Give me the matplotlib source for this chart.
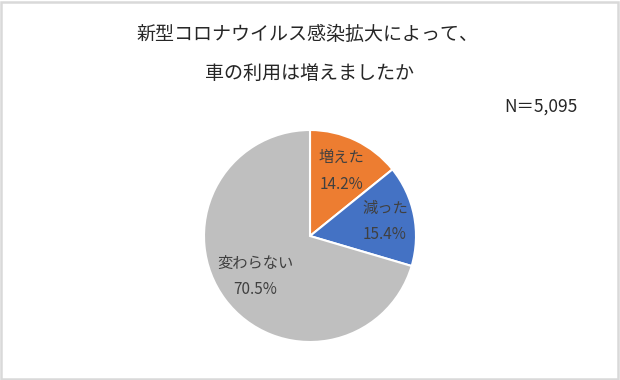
import matplotlib
matplotlib.use("Agg")
import matplotlib.pyplot as plt
from matplotlib.patches import Rectangle
import numpy as np

plt.rcParams['font.family'] = ['Noto Sans CJK JP', 'DejaVu Sans']

# data
categories = ['増えた', '減った', '変わらない']
shares = [14.2, 15.4, 70.5]
colors = ['#ED7D31', '#4472C4', '#BFBFBF']
title_lines = ['新型コロナウイルス感染拡大によって、', '車の利用は増えましたか']
n_note = 'N＝5,095'

# label distance from centre (fraction of radius), one per wedge
label_dist = [0.68, 0.72, 0.64]

W, H = 620, 380
fig = plt.figure(figsize=(W / 100, H / 100), dpi=100)

# light frame round the chart
fig.patches.append(Rectangle((0.002, 0.003), 0.995, 0.993, transform=fig.transFigure,
                             fill=False, edgecolor='#D9D9D9', linewidth=1.8))

# pie centre (310, 236) px, radius 106 px
cx, cy, r = 310, 236, 106
ax = fig.add_axes([(cx - r) / W, (H - cy - r) / H, 2 * r / W, 2 * r / H])

labels = [f'{c}\n{v:.1f}%' for c, v in zip(categories, shares)]
wedges, texts = ax.pie(shares, colors=colors, startangle=90, counterclock=False,
                       labels=labels, labeldistance=0.68,
                       wedgeprops=dict(edgecolor='white', linewidth=1.5),
                       textprops=dict(fontsize=11, color='#404040', linespacing=1.7))
for w, t, d in zip(wedges, texts, label_dist):
    ang = np.deg2rad((w.theta1 + w.theta2) / 2)
    t.set_position((d * np.cos(ang), d * np.sin(ang)))
    t.set_horizontalalignment('center')
    t.set_verticalalignment('center')
ax.set_xlim(-1, 1)
ax.set_ylim(-1, 1)
ax.set_aspect('equal')

fig.text(307 / W, 1 - 35 / H, title_lines[0], ha='center', va='center', fontsize=13.7,
         color='#262626')
fig.text(309 / W, 1 - 73 / H, title_lines[1], ha='center', va='center', fontsize=13.7,
         color='#262626')
fig.text(578 / W, 1 - 107 / H, n_note, ha='right', va='center', fontsize=12.5,
         color='#262626')

fig.savefig('out.png', dpi=100)
